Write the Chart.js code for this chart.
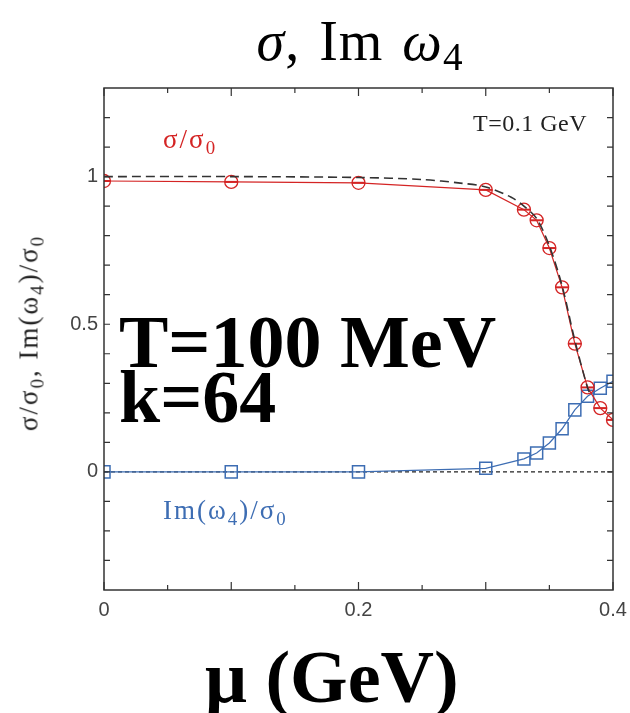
<!DOCTYPE html>
<html>
<head>
<meta charset="utf-8">
<script src="https://cdn.jsdelivr.net/npm/chart.js@4.4.1/dist/chart.umd.min.js"></script>
<style>
  html, body { margin: 0; padding: 0; background: #fff; }
  #wrap { position: relative; width: 630px; height: 713px; }
  #wrap canvas { position: absolute; left: 0; top: 0; }
  .lbl { position: absolute; white-space: nowrap; line-height: 1; }
  .serif { font-family: "Liberation Serif", "Times New Roman", serif; }
  sub { font-size: 0.7em; vertical-align: -0.3em; line-height: 0; }
</style>
</head>
<body>
<div id="wrap">
  <canvas id="c" width="630" height="713"></canvas>
  <div class="lbl serif" id="title" style="left:360px; top:13px; font-size:56px; letter-spacing:1px; word-spacing:4px; transform:translateX(-50%);"><i>σ</i>, Im <i>ω</i><sub style="font-size:0.7em;vertical-align:-0.25em">4</sub></div>
  <div class="lbl serif" id="tlabel" style="left:473px; top:111px; font-size:24px; letter-spacing:0.5px; color:#222;">T=0.1 GeV</div>
  <div class="lbl serif" id="redlabel" style="left:163px; top:126px; font-size:27px; letter-spacing:2px; color:#d42424;">σ/σ<sub>0</sub></div>
  <div class="lbl serif" id="bluelabel" style="left:163px; top:497px; font-size:27px; letter-spacing:2px; color:#3d6db3;">Im(ω<sub>4</sub>)/σ<sub>0</sub></div>
  <div class="lbl serif" id="big1" style="left:119px; top:305px; font-size:74px; font-weight:bold; color:#000;">T=100 MeV</div>
  <div class="lbl serif" id="big2" style="left:119px; top:360px; font-size:74px; font-weight:bold; color:#000;">k=64</div>
  <div class="lbl serif" id="xtitle" style="left:205px; top:640px; font-size:74px; font-weight:bold; color:#000;">μ (GeV)</div>
  <div class="lbl serif" id="ytitle" style="left:29px; top:333px; font-size:27px; letter-spacing:2px; color:#222; transform: translate(-50%,-50%) rotate(-90deg);">σ/σ<sub>0</sub>, Im(ω<sub>4</sub>)/σ<sub>0</sub></div>
</div>
<script>
// ---- data ----
const muPoints      = [0, 0.1, 0.2, 0.3, 0.33, 0.34, 0.35, 0.36, 0.37, 0.38, 0.39, 0.4];
const sigmaRatio    = [0.985, 0.982, 0.979, 0.955, 0.888, 0.852, 0.758, 0.625, 0.434, 0.286, 0.216, 0.176];
const imOmegaRatio  = [0, 0, 0, 0.012, 0.044, 0.064, 0.098, 0.146, 0.21, 0.256, 0.283, 0.307];
const muCurve       = [0, 0.1, 0.2, 0.25, 0.28, 0.3, 0.32, 0.33, 0.34, 0.35, 0.36, 0.37, 0.38, 0.383];
const sigmaCurve    = [1.0, 1.0, 0.997, 0.99, 0.978, 0.965, 0.93, 0.9, 0.858, 0.765, 0.63, 0.445, 0.285, 0.255];
const zeroLineX     = [0, 0.4];
const zeroLineY     = [0, 0];
const xTickLabels   = [0, 0.2, 0.4];
const yTickLabels   = [0, 0.5, 1];
const xMajorTicks   = [0, 0.1, 0.2, 0.3, 0.4];
const xMinorTicks   = [0.05, 0.15, 0.25, 0.35];
const yMinorTicks   = [-0.3, -0.2, -0.1, 0, 0.1, 0.2, 0.3, 0.4, 0.5, 0.6, 0.7, 0.8, 0.9, 1.0, 1.1, 1.2];

const RED = '#d42424';
const BLUE = '#3d6db3';

const pts = (xs, ys) => xs.map((x, i) => ({ x: x, y: ys[i] }));

const frameTicks = {
  id: 'frameTicks',
  afterDraw(chart) {
    const { ctx, chartArea: a, scales } = chart;
    ctx.save();
    ctx.strokeStyle = '#333';
    ctx.lineWidth = 1.5;
    ctx.strokeRect(a.left, a.top, a.right - a.left, a.bottom - a.top);
    ctx.lineWidth = 1.2;
    ctx.beginPath();
    const xt = (v, len) => {
      const px = scales.x.getPixelForValue(v);
      ctx.moveTo(px, a.bottom); ctx.lineTo(px, a.bottom - len);
      ctx.moveTo(px, a.top); ctx.lineTo(px, a.top + len);
    };
    xMajorTicks.forEach(v => xt(v, 8));
    xMinorTicks.forEach(v => xt(v, 5));
    yMinorTicks.forEach(v => {
      const py = scales.y.getPixelForValue(v);
      ctx.moveTo(a.left, py); ctx.lineTo(a.left + 6, py);
      ctx.moveTo(a.right, py); ctx.lineTo(a.right - 6, py);
    });
    ctx.stroke();
    ctx.restore();
  }
};

new Chart(document.getElementById('c'), {
  type: 'scatter',
  data: {
    datasets: [
      { data: pts(zeroLineX, zeroLineY), showLine: true, borderColor: '#222', borderWidth: 1.2,
        borderDash: [4, 3], pointRadius: 0, order: 5 },
      { data: pts(muCurve, sigmaCurve), showLine: true, borderColor: '#333', borderWidth: 1.6,
        borderDash: [9, 5], pointRadius: 0, tension: 0.3, order: 1 },
      { data: pts(muPoints, sigmaRatio), showLine: true, borderColor: RED, borderWidth: 1.2,
        pointStyle: 'circle', pointRadius: 6.5, pointBorderWidth: 1.3, pointBorderColor: RED,
        pointBackgroundColor: 'rgba(255,255,255,0)', order: 3 },
      { data: pts(muPoints, sigmaRatio), showLine: false,
        pointStyle: 'line', pointRadius: 6.5, pointBorderWidth: 2, pointBorderColor: RED, order: 2 },
      { data: pts(muPoints, imOmegaRatio), showLine: true, borderColor: BLUE, borderWidth: 1.2,
        pointStyle: 'rect', pointRadius: 8.5, pointBorderWidth: 1.5, pointBorderColor: BLUE,
        pointBackgroundColor: 'rgba(255,255,255,0)', order: 4 }
    ]
  },
  options: {
    responsive: false,
    animation: false,
    events: [],
    layout: { padding: { left: 0, right: 17, top: 88, bottom: 83 } },
    plugins: { legend: { display: false }, tooltip: { enabled: false } },
    scales: {
      x: {
        type: 'linear', min: 0, max: 0.4,
        afterBuildTicks: s => { s.ticks = xTickLabels.map(v => ({ value: v })); },
        afterFit: s => { s.height = 40; s.paddingLeft = 0; s.paddingRight = 0; },
        grid: { display: false, drawTicks: false },
        border: { display: false },
        ticks: { padding: 8, color: '#444', font: { family: 'Liberation Sans', size: 20 },
                 callback: v => String(v) }
      },
      y: {
        type: 'linear', min: -0.4, max: 1.3,
        afterBuildTicks: s => { s.ticks = yTickLabels.map(v => ({ value: v })); },
        afterFit: s => { s.width = 104; s.paddingTop = 0; s.paddingBottom = 0; },
        grid: { display: false, drawTicks: false },
        border: { display: false },
        ticks: { padding: 6, color: '#444', font: { family: 'Liberation Sans', size: 20 },
                 callback: v => String(v) }
      }
    }
  },
  plugins: [frameTicks]
});
</script>
</body>
</html>
